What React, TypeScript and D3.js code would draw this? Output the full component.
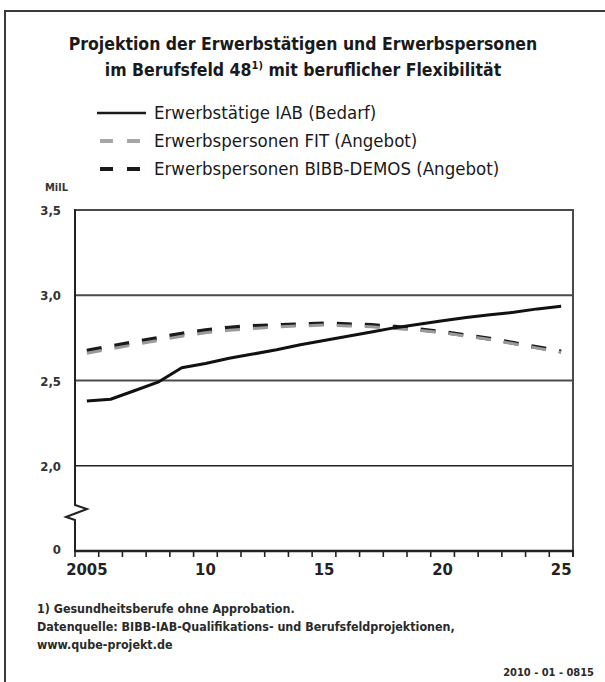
import * as d3 from "d3";
import { useEffect, useRef } from "react";

const years = d3.range(2005, 2026);
const iabBedarf = [2.38, 2.39, 2.44, 2.49, 2.575, 2.6, 2.63, 2.655, 2.68, 2.71, 2.735, 2.76, 2.785, 2.81, 2.83, 2.85, 2.87, 2.885, 2.9, 2.92, 2.935];
const bibbDemos = [2.675, 2.7, 2.725, 2.75, 2.775, 2.795, 2.81, 2.82, 2.825, 2.83, 2.835, 2.83, 2.825, 2.815, 2.8, 2.785, 2.765, 2.745, 2.72, 2.695, 2.67];
const fitAngebot = [2.66, 2.685, 2.71, 2.735, 2.76, 2.78, 2.795, 2.805, 2.815, 2.82, 2.825, 2.82, 2.815, 2.805, 2.795, 2.78, 2.76, 2.74, 2.715, 2.69, 2.665];
const yTicks = [3.5, 3.0, 2.5, 2.0];
const yTickLabels = ["3,5", "3,0", "2,5", "2,0"];
const xLabelYears = [2005, 2010, 2015, 2020, 2025];
const xLabels = ["2005", "10", "15", "20", "25"];
const legendItems = [
  { label: "Erwerbstätige IAB (Bedarf)", color: "#1a1a1a", dash: "none" },
  { label: "Erwerbspersonen FIT (Angebot)", color: "#a6a6a6", dash: "13,14" },
  { label: "Erwerbspersonen BIBB-DEMOS (Angebot)", color: "#1a1a1a", dash: "13,14" },
];
const footnotes = [
  "1) Gesundheitsberufe ohne Approbation.",
  "Datenquelle: BIBB-IAB-Qualifikations- und Berufsfeldprojektionen,",
  "www.qube-projekt.de",
];

const W = 605;
const H = 682;
const plot = { left: 75, right: 573, top: 210, bottom: 551 };
const font = "'DejaVu Sans Condensed', 'DejaVu Sans', sans-serif";

export default function App() {
  const svgRef = useRef<SVGSVGElement>(null);

  useEffect(() => {
    document.body.style.margin = "0";
    if (!svgRef.current) return;
    const svg = d3.select(svgRef.current);
    svg.selectAll("*").remove();

    svg.append("rect").attr("width", W).attr("height", H).attr("fill", "#fff");
    svg.append("rect")
      .attr("x", 5).attr("y", 11).attr("width", 640).attr("height", 720)
      .attr("fill", "none").attr("stroke", "#3a3a3a").attr("stroke-width", 2);

    // title
    const title = svg.append("g").attr("font-family", font).attr("font-weight", "bold")
      .attr("font-size", 17.5).attr("fill", "#1a1a1a").attr("text-anchor", "middle");
    title.append("text").attr("x", 303).attr("y", 50).text("Projektion der Erwerbstätigen und Erwerbspersonen");
    const t2 = title.append("text").attr("x", 303).attr("y", 76);
    t2.append("tspan").text("im Berufsfeld 48");
    t2.append("tspan").attr("dy", -7).attr("font-size", 11).text("1)");
    t2.append("tspan").attr("dy", 7).text(" mit beruflicher Flexibilität");

    // legend
    legendItems.forEach((item, i) => {
      const y = 113 + i * 28;
      svg.append("line")
        .attr("x1", i === 0 ? 97 : 100).attr("x2", 146).attr("y1", y).attr("y2", y)
        .attr("stroke", item.color).attr("stroke-width", i === 0 ? 2.5 : 4)
        .attr("stroke-dasharray", item.dash);
      svg.append("text")
        .attr("x", 154).attr("y", y + 6)
        .attr("font-family", font).attr("font-size", 18.5).attr("fill", "#1a1a1a")
        .text(item.label);
    });

    const x = d3.scaleBand<number>().domain(years).range([plot.left, plot.right]);
    const cx = (yr: number) => (x(yr) ?? 0) + x.bandwidth() / 2;
    const y = d3.scaleLinear().domain([1.5, 3.5]).range([plot.bottom, plot.top]);

    // gridlines
    yTicks.forEach((v, i) => {
      svg.append("line")
        .attr("x1", plot.left).attr("x2", plot.right).attr("y1", y(v)).attr("y2", y(v))
        .attr("stroke", i === 3 ? "#222" : "#4a4a4a").attr("stroke-width", i === 3 ? 1.3 : 2);
      svg.append("text")
        .attr("x", 61).attr("y", y(v) + 5).attr("text-anchor", "end")
        .attr("font-family", font).attr("font-weight", "bold").attr("font-size", 13).attr("fill", "#333")
        .text(yTickLabels[i]);
    });
    svg.append("text")
      .attr("x", 45).attr("y", 191)
      .attr("font-family", font).attr("font-weight", "bold").attr("font-size", 11).attr("fill", "#333")
      .text("MilL");
    svg.append("text")
      .attr("x", 61).attr("y", plot.bottom + 3).attr("text-anchor", "end")
      .attr("font-family", font).attr("font-weight", "bold").attr("font-size", 13).attr("fill", "#333")
      .text("0");

    // right border
    svg.append("line")
      .attr("x1", plot.right).attr("x2", plot.right).attr("y1", plot.top - 1).attr("y2", plot.bottom + 6)
      .attr("stroke", "#4a4a4a").attr("stroke-width", 2);

    // left axis with break
    const brk = 505;
    svg.append("path")
      .attr("d", `M${plot.left},${plot.top - 1}V${brk}L${plot.left + 12},${brk + 4}L${plot.left - 9},${brk + 12}L${plot.left},${brk + 15}V${plot.bottom}`)
      .attr("fill", "none").attr("stroke", "#222").attr("stroke-width", 2);

    // x axis
    svg.append("line")
      .attr("x1", plot.left - 1).attr("x2", plot.right + 1).attr("y1", plot.bottom).attr("y2", plot.bottom)
      .attr("stroke", "#222").attr("stroke-width", 2.5);
    const bounds = [...years.map((yr) => x(yr) ?? 0), plot.right];
    bounds.forEach((bx) => {
      svg.append("line")
        .attr("x1", bx).attr("x2", bx).attr("y1", plot.bottom).attr("y2", plot.bottom + 6)
        .attr("stroke", "#222").attr("stroke-width", 1.6);
    });
    xLabelYears.forEach((yr, i) => {
      svg.append("text")
        .attr("x", cx(yr)).attr("y", plot.bottom + 24).attr("text-anchor", "middle")
        .attr("font-family", font).attr("font-weight", "bold").attr("font-size", 16.5).attr("fill", "#222")
        .text(xLabels[i]);
    });

    const line = d3.line<number>().x((_, i) => cx(years[i])).y((d) => y(d));

    svg.append("path").datum(bibbDemos)
      .attr("d", line).attr("fill", "none").attr("stroke", "#1a1a1a")
      .attr("stroke-width", 4).attr("stroke-dasharray", "15,13");
    svg.append("path").datum(fitAngebot)
      .attr("d", line).attr("fill", "none").attr("stroke", "#9a9a9a")
      .attr("stroke-width", 3).attr("stroke-dasharray", "15,13");
    svg.append("path").datum(iabBedarf)
      .attr("d", line).attr("fill", "none").attr("stroke", "#111")
      .attr("stroke-width", 3).attr("stroke-linejoin", "round");

    // footnotes
    footnotes.forEach((f, i) => {
      svg.append("text")
        .attr("x", 37).attr("y", 613 + i * 18)
        .attr("font-family", font).attr("font-weight", "bold").attr("font-size", 12.4).attr("fill", "#2a2a2a")
        .text(f);
    });
    svg.append("text")
      .attr("x", 594).attr("y", 676).attr("text-anchor", "end")
      .attr("font-family", font).attr("font-weight", "bold").attr("font-size", 11).attr("fill", "#2a2a2a")
      .text("2010 - 01 - 0815");
  }, []);

  return (
    <svg ref={svgRef} width={W} height={H} style={{ display: "block", position: "absolute", left: 0, top: 0 }} />
  );
}
